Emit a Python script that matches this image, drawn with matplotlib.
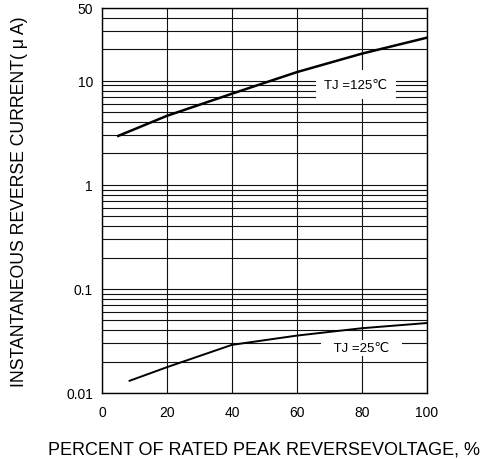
import matplotlib
matplotlib.use('Agg')
import matplotlib.pyplot as plt
from matplotlib.ticker import LogLocator, FixedLocator, NullFormatter

plt.rcParams['font.family'] = ['Liberation Sans', 'DejaVu Sans']

# curves
pct_125 = [5, 20, 40, 60, 80, 100]
ir_125 = [2.95, 4.6, 7.5, 12.1, 18.2, 25.9]
pct_25 = [8.5, 20, 40, 60, 80, 100]
ir_25 = [0.0131, 0.0177, 0.029, 0.0356, 0.0419, 0.047]

x_ticks = [0, 20, 40, 60, 80, 100]
y_ticks = [0.01, 0.1, 1, 10, 50]
y_tick_labels = ['0.01', '0.1', '1', '10', '50']

fig = plt.figure(figsize=(4.87, 4.60), dpi=100)
ax = fig.add_axes([0.2094, 0.1435, 0.667, 0.837])

ax.set_yscale('log')
ax.set_xlim(0, 100)
ax.set_ylim(0.01, 50)

ax.xaxis.set_major_locator(FixedLocator(x_ticks))
ax.yaxis.set_major_locator(FixedLocator(y_ticks))
ax.set_yticklabels(y_tick_labels)
ax.yaxis.set_minor_locator(LogLocator(base=10, subs=range(2, 10), numticks=20))
ax.yaxis.set_minor_formatter(NullFormatter())

ax.grid(True, which='both', axis='y', color='#111111', lw=0.8)
ax.grid(True, which='major', axis='x', color='#111111', lw=0.8)
ax.tick_params(which='both', length=0, labelsize=10)
ax.tick_params(axis='y', pad=6.5)
ax.tick_params(axis='x', pad=8.5)
for s in ax.spines.values():
    s.set_linewidth(1.0)

ax.plot(pct_125, ir_125, color='black', lw=1.8, zorder=5)
ax.plot(pct_25, ir_25, color='black', lw=1.4, zorder=5)

ax.text(78.2, 9.2, 'TJ =125\u2103', fontsize=9.5, ha='center', va='center',
        bbox=dict(facecolor='white', edgecolor='none', pad=6), zorder=4)
ax.text(79.8, 0.0271, '   TJ =25\u2103   ', fontsize=9.5, ha='center', va='center',
        bbox=dict(facecolor='white', edgecolor='none', pad=1.5), zorder=4)

fig.text(20 / 487, 1 - 201.5 / 460, 'INSTANTANEOUS REVERSE CURRENT( \u03bc A)',
         fontsize=12.7, rotation=90, ha='center', va='center')
fig.text(264.5 / 487, 1 - 450 / 460, 'PERCENT OF RATED PEAK REVERSEVOLTAGE, %',
         fontsize=13, ha='center', va='center')

fig.savefig('out.png', dpi=100)
